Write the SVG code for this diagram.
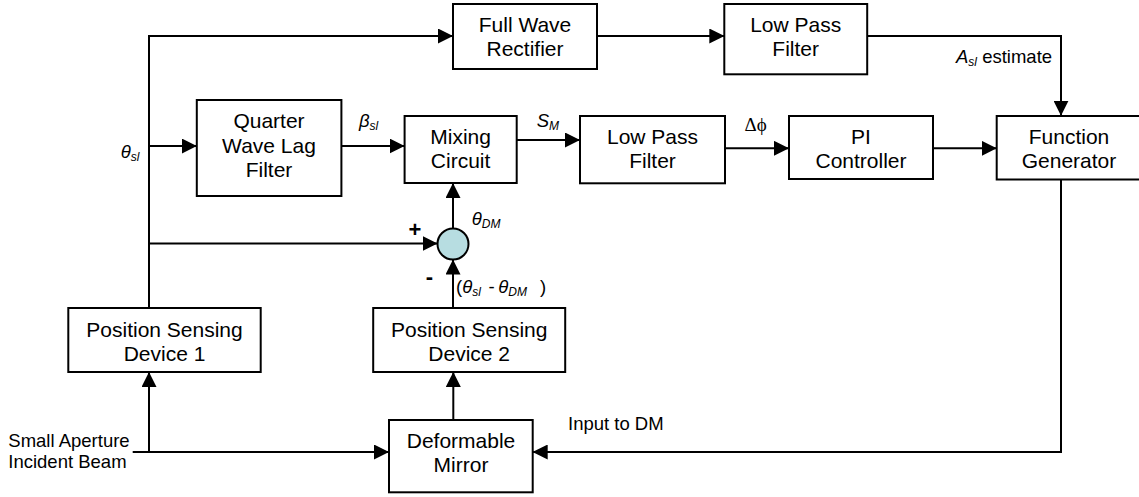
<svg xmlns="http://www.w3.org/2000/svg" width="1139" height="497" viewBox="0 0 1139 497">
<style>
.box{fill:#fff;stroke:#000;stroke-width:2}
.t{font-family:"Liberation Sans",Arial,sans-serif;font-size:21px;fill:#000;text-anchor:middle}
.l{font-family:"Liberation Sans",Arial,sans-serif;font-size:18.5px;fill:#000}
.i{font-style:italic}
.sub{font-size:12px;font-style:italic}
.c{fill:none;stroke:#000;stroke-width:2}
.sym{font-family:"Liberation Serif","DejaVu Serif","Times New Roman",serif;font-size:19px;fill:#000}
.sign{font-family:"Liberation Sans",Arial,sans-serif;font-weight:bold;fill:#000;text-anchor:middle}
</style>
<defs>
<marker id="ah" markerUnits="userSpaceOnUse" markerWidth="15" markerHeight="15" refX="15" refY="7.5" orient="auto"><path d="M0,0 L15,7.5 L0,15 z" fill="#000"/></marker>
</defs>
<g id="connectors" class="c">
<path d="M149,308 V36 H453" marker-end="url(#ah)"/>
<path d="M149,146 H196.8" marker-end="url(#ah)"/>
<path d="M341.4,146 H404.6" marker-end="url(#ah)"/>
<path d="M516.7,140 H580" marker-end="url(#ah)"/>
<path d="M725,148.3 H789" marker-end="url(#ah)"/>
<path d="M933,148.3 H996.7" marker-end="url(#ah)"/>
<path d="M597,36 H724.3" marker-end="url(#ah)"/>
<path d="M867,36 H1061 V115.7" marker-end="url(#ah)"/>
<path d="M1061,179.5 V452 H532.7" marker-end="url(#ah)"/>
<path d="M132.7,452 H389" marker-end="url(#ah)"/>
<path d="M149,452 V372" marker-end="url(#ah)"/>
<path d="M453.3,420 V372" marker-end="url(#ah)"/>
<path d="M453,308 V259.5" marker-end="url(#ah)"/>
<path d="M453,228.5 V183" marker-end="url(#ah)"/>
<path d="M149,243.5 H437.5" marker-end="url(#ah)"/>
</g>
<g id="fwr"><rect class="box" x="453" y="4" width="144" height="65"/><text class="t" x="525" y="32">Full Wave</text><text class="t" x="525" y="56">Rectifier</text></g>
<g id="lpf1"><rect class="box" x="724.3" y="4" width="142.9" height="70.3"/><text class="t" x="795.7" y="32">Low Pass</text><text class="t" x="795.7" y="56">Filter</text></g>
<g id="qwlf"><rect class="box" x="196.8" y="100" width="144.6" height="96"/><text class="t" x="269" y="128.3">Quarter</text><text class="t" x="269" y="152.8">Wave Lag</text><text class="t" x="269" y="176.7">Filter</text></g>
<g id="mixing"><rect class="box" x="404.6" y="116" width="112.1" height="67"/><text class="t" x="460.6" y="144">Mixing</text><text class="t" x="460.6" y="168.3">Circuit</text></g>
<g id="lpf2"><rect class="box" x="580" y="116" width="145" height="67.3"/><text class="t" x="652.5" y="143.5">Low Pass</text><text class="t" x="652.5" y="167.5">Filter</text></g>
<g id="pi"><rect class="box" x="789" y="116" width="144" height="63"/><text class="t" x="861" y="144">PI</text><text class="t" x="861" y="168">Controller</text></g>
<g id="fg"><rect class="box" x="996.7" y="116" width="145" height="63.5"/><text class="t" x="1069" y="144">Function</text><text class="t" x="1069" y="168.3">Generator</text></g>
<g id="psd1"><rect class="box" x="68.3" y="308" width="192.4" height="64"/><text class="t" x="164.5" y="336.7">Position Sensing</text><text class="t" x="164.5" y="361">Device 1</text></g>
<g id="psd2"><rect class="box" x="373.2" y="308" width="192" height="64"/><text class="t" x="469.2" y="336.7">Position Sensing</text><text class="t" x="469.2" y="361">Device 2</text></g>
<g id="dm"><rect class="box" x="389" y="420" width="143.7" height="72.3"/><text class="t" x="461" y="448.3">Deformable</text><text class="t" x="461" y="471.7">Mirror</text></g>
<g id="sum"><circle cx="453" cy="244" r="15.5" fill="#b7dde1" stroke="#000" stroke-width="2"/></g>
<g id="labels">
<text class="l i" x="120.7" y="158" font-size="18">θ<tspan class="sub" dy="3">sl</tspan></text>
<text class="l i" x="359" y="127" font-size="18">β<tspan class="sub" dy="3">sl</tspan></text>
<text class="l i" x="536.7" y="127" font-size="18">S<tspan class="sub" dy="3">M</tspan></text>
<text class="sym" x="744.6" y="131">Δϕ</text>
<text class="l" x="956" y="62.7"><tspan class="i">A</tspan><tspan class="sub" dy="3">sl</tspan><tspan dy="-3"> estimate</tspan></text>
<text class="l i" x="471.7" y="225" font-size="18">θ<tspan class="sub" dy="3">DM</tspan></text>
<text class="sign" x="415" y="236.5" font-size="22">+</text>
<text class="sign" x="429.3" y="284" font-size="22">-</text>
<text class="l" x="456" y="293" font-size="18">(<tspan class="i">θ</tspan><tspan class="sub" dy="3">sl</tspan><tspan dy="-3" x="488.5">-</tspan><tspan class="i" x="498.3">θ</tspan><tspan class="sub" dy="3">DM</tspan><tspan dy="-3" x="540">)</tspan></text>
<text class="l" x="568" y="430">Input to DM</text>
<text class="l" x="8.3" y="446.7">Small Aperture</text>
<text class="l" x="8.3" y="468.3">Incident Beam</text>
</g>
</svg>
